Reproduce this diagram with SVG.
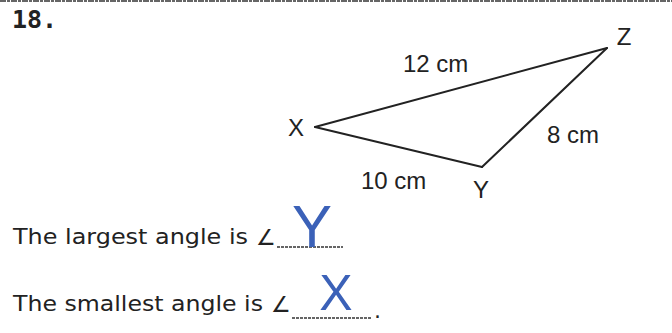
<svg xmlns="http://www.w3.org/2000/svg" width="672" height="333" viewBox="0 0 672 333">
<style>
.lbl{font-family:"Liberation Sans",Arial,sans-serif;font-size:24px;fill:#222}
.q{font-family:"DejaVu Sans","Liberation Sans",sans-serif;font-size:22px;fill:#222}
.edge{stroke:#222;stroke-width:2;fill:none;stroke-linecap:round;stroke-linejoin:round}
.blank{stroke:#333;stroke-width:1.6;stroke-dasharray:3 1}
.ans{font-family:"Liberation Sans",Arial,sans-serif;fill:#3b61b8}
</style>
<rect width="672" height="333" fill="#fff"/>
<line x1="0" y1="1" x2="672" y2="1" stroke="#666" stroke-width="2" stroke-dasharray="6 1 3 1"/>
<g id="title"><text x="12" y="28" font-family="DejaVu Sans Mono,monospace" font-weight="bold" font-size="25" fill="#222">18.</text></g>
<g id="connectors">
<line class="edge" x1="315" y1="127" x2="607" y2="48"/>
<line class="edge" x1="607" y1="48" x2="482" y2="167"/>
<line class="edge" x1="482" y1="167" x2="315" y2="127"/>
</g>
<g id="node-X"><text class="lbl" x="296" y="136" text-anchor="middle">X</text></g>
<g id="node-Y"><text class="lbl" x="481" y="198" text-anchor="middle">Y</text></g>
<g id="node-Z"><text class="lbl" x="624" y="45" text-anchor="middle">Z</text></g>
<g id="edge-labels">
<text class="lbl" x="403" y="72">12 cm</text>
<text class="lbl" x="547" y="143">8 cm</text>
<text class="lbl" x="361" y="189">10 cm</text>
</g>
<g id="q1">
<text class="q" x="13" y="244" textLength="235" lengthAdjust="spacingAndGlyphs">The largest angle is</text>
<text class="q" x="256" y="245" font-size="16">∠</text>
<line class="blank" x1="277" y1="247" x2="343" y2="247"/>
<text class="ans" x="312" y="247" font-size="60" text-anchor="middle">Y</text>
</g>
<g id="q2">
<text class="q" x="13" y="311" textLength="250" lengthAdjust="spacingAndGlyphs">The smallest angle is</text>
<text class="q" x="271" y="312" font-size="16">∠</text>
<line class="blank" x1="292" y1="318" x2="372" y2="318"/>
<text class="q" x="374" y="318">.</text>
<text class="ans" x="336" y="310" font-size="50" text-anchor="middle">X</text>
</g>
</svg>
